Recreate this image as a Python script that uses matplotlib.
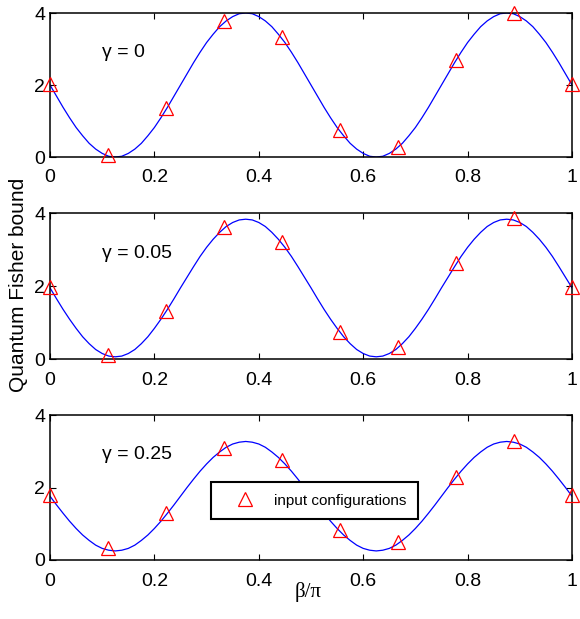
import numpy as np
import matplotlib
matplotlib.use("Agg")
import matplotlib.pyplot as plt

SANS = "Liberation Sans"

# ---- data -------------------------------------------------------------
beta_curve = np.linspace(0.0, 1.0, 81)          # beta/pi sampling of the bound curves
beta_input = np.arange(10) / 9.0                # the ten input configurations

gammas = ["0", "0.05", "0.25"]

qfb_g0 = [2.00, 1.69, 1.38, 1.09, 0.82, 0.59, 0.38, 0.22, 0.10, 0.02, 0.00,
          0.02, 0.10, 0.22, 0.38, 0.59, 0.82, 1.09, 1.38, 1.69, 2.00,
          2.31, 2.62, 2.91, 3.18, 3.41, 3.62, 3.78, 3.90, 3.98, 4.00,
          3.98, 3.90, 3.78, 3.62, 3.41, 3.18, 2.91, 2.62, 2.31, 2.00,
          1.69, 1.38, 1.09, 0.82, 0.59, 0.38, 0.22, 0.10, 0.02, 0.00,
          0.02, 0.10, 0.22, 0.38, 0.59, 0.82, 1.09, 1.38, 1.69, 2.00,
          2.31, 2.62, 2.91, 3.18, 3.41, 3.62, 3.78, 3.90, 3.98, 4.00,
          3.98, 3.90, 3.78, 3.62, 3.41, 3.18, 2.91, 2.62, 2.31, 2.00]

qfb_g005 = [1.95, 1.65, 1.36, 1.09, 0.84, 0.61, 0.42, 0.26, 0.15, 0.08, 0.06,
            0.08, 0.15, 0.26, 0.42, 0.61, 0.84, 1.09, 1.36, 1.65, 1.95,
            2.24, 2.53, 2.81, 3.06, 3.28, 3.47, 3.63, 3.74, 3.81, 3.83,
            3.81, 3.74, 3.63, 3.47, 3.28, 3.06, 2.81, 2.53, 2.24, 1.95,
            1.65, 1.36, 1.09, 0.84, 0.61, 0.42, 0.26, 0.15, 0.08, 0.06,
            0.08, 0.15, 0.26, 0.42, 0.61, 0.84, 1.09, 1.36, 1.65, 1.95,
            2.24, 2.53, 2.81, 3.06, 3.28, 3.47, 3.63, 3.74, 3.81, 3.83,
            3.81, 3.74, 3.63, 3.47, 3.28, 3.06, 2.81, 2.53, 2.24, 1.95]

qfb_g025 = [1.76, 1.52, 1.29, 1.07, 0.87, 0.69, 0.54, 0.41, 0.32, 0.27, 0.25,
            0.27, 0.32, 0.41, 0.54, 0.69, 0.87, 1.07, 1.29, 1.52, 1.76,
            2.00, 2.23, 2.45, 2.65, 2.83, 2.98, 3.11, 3.20, 3.25, 3.27,
            3.25, 3.20, 3.11, 2.98, 2.83, 2.65, 2.45, 2.23, 2.00, 1.76,
            1.52, 1.29, 1.07, 0.87, 0.69, 0.54, 0.41, 0.32, 0.27, 0.25,
            0.27, 0.32, 0.41, 0.54, 0.69, 0.87, 1.07, 1.29, 1.52, 1.76,
            2.00, 2.23, 2.45, 2.65, 2.83, 2.98, 3.11, 3.20, 3.25, 3.27,
            3.25, 3.20, 3.11, 2.98, 2.83, 2.65, 2.45, 2.23, 2.00, 1.76]

input_g0 = [2.02, 0.05, 1.35, 3.77, 3.32, 0.74, 0.28, 2.70, 3.99, 2.02]
input_g005 = [1.97, 0.10, 1.31, 3.62, 3.20, 0.75, 0.34, 2.62, 3.85, 1.97]
input_g025 = [1.79, 0.32, 1.29, 3.10, 2.76, 0.84, 0.50, 2.29, 3.29, 1.79]

x_ticks = [0, 0.2, 0.4, 0.6, 0.8, 1.0]
x_ticklabels = ["0", "0.2", "0.4", "0.6", "0.8", "1"]
y_ticks = [0, 2, 4]
y_ticklabels = ["0", "2", "4"]

curves = [qfb_g0, qfb_g005, qfb_g025]
inputs = [input_g0, input_g005, input_g025]

# ---- figure -----------------------------------------------------------
W, H = 580, 619
fig = plt.figure(figsize=(W / 100, H / 100), dpi=100)

# panel boxes in pixels: (top, bottom)
panels = [(13, 157), (213, 359), (415, 560)]
left_px, right_px = 50, 572

FS = 14
axes = []
for (top, bot), g, curve, pts in zip(panels, gammas, curves, inputs):
    ax = fig.add_axes([left_px / W, 1 - bot / H, (right_px - left_px) / W, (bot - top) / H])
    ax.plot(beta_curve, curve, color="#0000ff", lw=0.9, zorder=2)
    ax.plot(beta_input, pts, linestyle="none", marker="^", markersize=9.5,
            markerfacecolor="none", markeredgecolor="#ff0000", markeredgewidth=0.9,
            clip_on=False, zorder=3, label="input configurations")
    ax.set_xlim(0, 1)
    ax.set_ylim(0, 4)
    ax.set_xticks(x_ticks)
    ax.set_xticklabels(x_ticklabels)
    ax.set_yticks(y_ticks)
    ax.set_yticklabels(y_ticklabels)
    ax.tick_params(direction="in", length=4, width=0.8, top=True, right=True,
                   labelsize=FS)
    ax.tick_params(axis="x", pad=9)
    ax.tick_params(axis="y", pad=3.5)
    for lab in ax.get_xticklabels() + ax.get_yticklabels():
        lab.set_family(SANS)
    for sp in ax.spines.values():
        sp.set_linewidth(1.1)
    ax.text(0.10, 2.90, "\u03b3 = " + g, fontsize=FS, family=SANS, va="center", ha="left")
    axes.append(ax)

leg = axes[2].legend(loc="center", bbox_to_anchor=(0.507, 0.41), numpoints=1,
                     prop={"family": SANS, "size": 11}, fancybox=False,
                     borderpad=0.78, handlelength=2.9, handletextpad=0.45,
                     borderaxespad=0)
leg.get_frame().set_edgecolor("black")
leg.get_frame().set_linewidth(1.5)
leg.get_frame().set_alpha(1)

fig.text(19 / W, 1 - 285 / H, "Quantum Fisher bound", rotation=90, fontsize=15,
         family=SANS, ha="center", va="center")
fig.text(308 / W, 1 - 592 / H, "\u03b2/\u03c0", fontsize=15, family="Liberation Serif",
         ha="center", va="center")

fig.savefig("out.png", dpi=100)
